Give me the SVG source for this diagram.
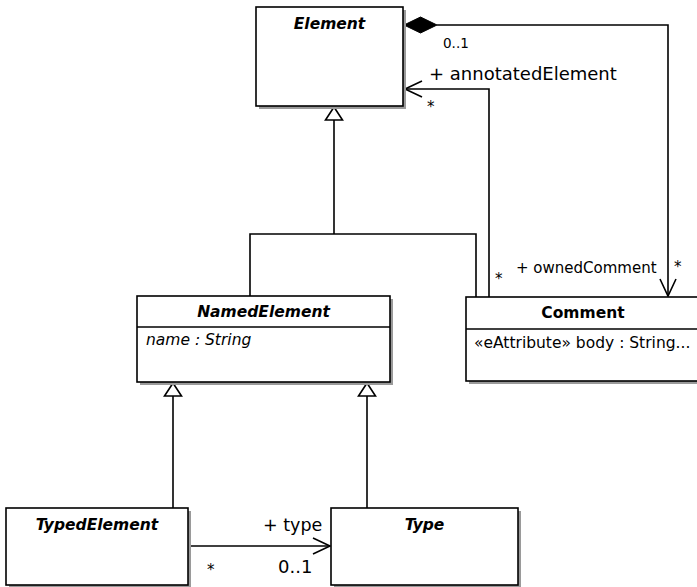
<svg xmlns="http://www.w3.org/2000/svg" width="697" height="587" viewBox="0 0 697 587">
<style>
.box{fill:#fff;stroke:#000;stroke-width:1.6}
.shadow{fill:#9a9a9a}
.div{stroke:#000;stroke-width:1.4}
.title{font-family:"DejaVu Sans",sans-serif;font-weight:bold;font-size:15.5px;text-anchor:middle;fill:#000}
.it{font-style:italic}
.attr{font-family:"DejaVu Sans",sans-serif;font-size:15.5px;fill:#000}
.lbl{font-family:"DejaVu Sans",sans-serif;font-size:15px;fill:#000}
.ln{fill:none;stroke:#000;stroke-width:1.6}
.tri{fill:#fff;stroke:#000;stroke-width:1.6}
</style>
<rect width="697" height="587" fill="#fff"/>
<g id="connectors">
  <!-- generalization tree to Element -->
  <polyline class="ln" points="334,120 334,234"/>
  <polyline class="ln" points="250,296 250,234 476,234 476,297"/>
  <polygon class="tri" points="334,107 325.5,120 342.5,120"/>
  <!-- generalizations to NamedElement -->
  <polyline class="ln" points="173,396 173,508"/>
  <polygon class="tri" points="173,383 164.5,396 181.5,396"/>
  <polyline class="ln" points="367,396 367,508"/>
  <polygon class="tri" points="367,383 358.5,396 375.5,396"/>
  <!-- composition ownedComment -->
  <polygon points="404,25 420.5,17 437,25 420.5,33" fill="#000" stroke="#000" stroke-width="1"/>
  <polyline class="ln" points="437,25 668,25 668,296"/>
  <polyline class="ln" points="660,279 668,296 676,279"/>
  <!-- annotatedElement -->
  <polyline class="ln" points="489,297 489,89 405,89"/>
  <polyline class="ln" points="422,81 405,89 422,97"/>
  <!-- type -->
  <polyline class="ln" points="188,546 330,546"/>
  <polyline class="ln" points="313,538 330,546 313,554"/>
  <!-- labels -->
  <text class="lbl" x="443" y="48" style="font-size:13.5px">0..1</text>
  <text class="lbl" x="429" y="80" style="font-size:18px">+ annotatedElement</text>
  <text class="lbl" x="427" y="112">*</text>
  <text class="lbl" x="495" y="284">*</text>
  <text class="lbl" x="516" y="273">+ ownedComment</text>
  <text class="lbl" x="674" y="272">*</text>
  <text class="lbl" x="263" y="531" style="font-size:17.5px">+ type</text>
  <text class="lbl" x="278" y="573" style="font-size:18px">0..1</text>
  <text class="lbl" x="207" y="575">*</text>
</g>
<g id="Element">
  <rect class="shadow" x="259" y="10" width="147" height="99"/>
  <rect class="box" x="256" y="7" width="147" height="99"/>
  <text class="title it" x="329.5" y="29">Element</text>
</g>
<g id="NamedElement">
  <rect class="shadow" x="140" y="299" width="253" height="86"/>
  <rect class="box" x="137" y="296" width="253" height="86"/>
  <line class="div" x1="137" y1="327" x2="390" y2="327"/>
  <text class="title it" x="263.5" y="317">NamedElement</text>
  <text class="attr it" x="146" y="345">name : String</text>
</g>
<g id="Comment">
  <rect class="shadow" x="469" y="300" width="240" height="84"/>
  <rect class="box" x="466" y="297" width="240" height="84"/>
  <line class="div" x1="466" y1="329" x2="706" y2="329"/>
  <text class="title" x="583" y="318">Comment</text>
  <text class="attr" x="474" y="348">«eAttribute» body : String...</text>
</g>
<g id="TypedElement">
  <rect class="shadow" x="9" y="511" width="182" height="77"/>
  <rect class="box" x="6" y="508" width="182" height="77"/>
  <text class="title it" x="97" y="530">TypedElement</text>
</g>
<g id="Type">
  <rect class="shadow" x="334" y="511" width="187" height="77"/>
  <rect class="box" x="331" y="508" width="187" height="77"/>
  <text class="title it" x="424.5" y="530">Type</text>
</g>
</svg>
